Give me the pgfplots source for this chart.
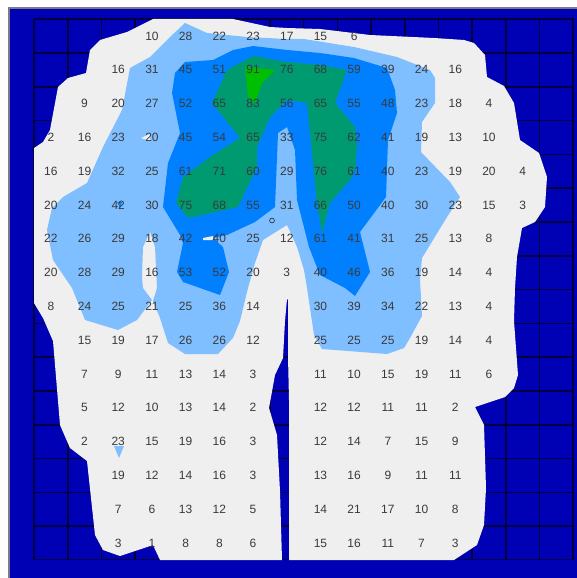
\documentclass[border=0pt]{standalone}
\usepackage{pgfplots}
\pgfplotsset{compat=1.18}
\usepackage{fontspec}
\setmainfont{Liberation Sans}
\definecolor{navy}{HTML}{0000B4}
\definecolor{gridc}{HTML}{000040}
\definecolor{pale}{HTML}{EFEFEF}
\definecolor{lblue}{HTML}{80BFFF}
\definecolor{mblue}{HTML}{0080FF}
\definecolor{tgreen}{HTML}{009A70}
\definecolor{bgreen}{HTML}{00BE00}
\definecolor{edge}{HTML}{7A7A8A}
\definecolor{lab}{HTML}{3A3A3A}
\begin{document}
\begin{tikzpicture}
\begin{axis}[x=1pt,y=1pt,y dir=reverse,xmin=0,xmax=577,ymin=0,ymax=578,hide axis,scale only axis]
% background
\addplot[fill=white,draw=none] coordinates {(0,0)(577,0)(577,578)(0,578)} -- cycle;
\addplot[fill=navy,draw=none] coordinates {(9,8)(577,8)(577,578)(9,578)} -- cycle;
\addplot[draw=edge,line width=1.5pt] coordinates {(9,578)(9,8)(577,8)};
% grid
\addplot[draw=gridc,line width=1.6pt,line join=miter] coordinates {
(34,19.3)(34,559.5)(67.7,559.5)(67.7,19.3)(101.4,19.3)(101.4,559.5)(135.1,559.5)(135.1,19.3)
(168.8,19.3)(168.8,559.5)(202.5,559.5)(202.5,19.3)(236.2,19.3)(236.2,559.5)(269.9,559.5)(269.9,19.3)
(303.6,19.3)(303.6,559.5)(337.3,559.5)(337.3,19.3)(371,19.3)(371,559.5)(404.7,559.5)(404.7,19.3)
(438.4,19.3)(438.4,559.5)(472.1,559.5)(472.1,19.3)(505.8,19.3)(505.8,559.5)(539.5,559.5)(539.5,19.3)
(573.2,19.3)(573.2,559.5)};
\addplot[draw=gridc,line width=1.6pt,line join=miter] coordinates {
(34,19.3)(573.2,19.3)(573.2,53)(34,53)(34,86.8)(573.2,86.8)(573.2,120.6)(34,120.6)
(34,154.4)(573.2,154.4)(573.2,188.2)(34,188.2)(34,222)(573.2,222)(573.2,255.8)(34,255.8)
(34,289.6)(573.2,289.6)(573.2,323.4)(34,323.4)(34,357.2)(573.2,357.2)(573.2,391)(34,391)
(34,424.8)(573.2,424.8)(573.2,458.6)(34,458.6)(34,492.4)(573.2,492.4)(573.2,526.2)(34,526.2)
(34,559.5)(573.2,559.5)};
% value bands
\addplot[fill=pale,draw=none] coordinates {
(153,19)(233,19)(270,27)(287,28)(320,29)(370,35)(434,38)(464,40)(474,43)(485,55)(487,77)(504,86)(514,103)(520,140)(539,153)(547,177)(545,207)(535,222)(522,228)(517,257)(515,288)(514,321)(518,375)(514,388)(505,397)(475,407)(484,425)(486,488)(484,525)(477,545)(454,560)
(289,560)(289,400)(288,356)(288,300)(287,299)(285,321)(283,358)(275,375)(269,408)(277,435)(280,491)(282,560)
(160,560)(153,545)(120,556)(103,550)(95,535)(87,461)(70,448)(60,425)(53,341)(43,318)(34,303)(34,148)(43,142)(50,130)(58,87)(68,78)(86,73)(90,50)(100,40)(127,32)} -- cycle;
\addplot[fill=lblue,draw=none] coordinates {
(185,23)(207,33)(247,37)(287,39)(304,39)(354,47)(397,57)(430,70)(435,78)(435,103)(422,122)(421,152)(450,182)(460,197)(447,217)(422,258)(420,280)(422,316)(410,338)(404,348)(387,354)(322,349)(314,335)(307,288)(304,270)(297,247)(287,225)(263,240)(255,263)(248,288)(240,321)(233,338)(218,354)(185,354)(168,343)(160,318)(153,301)(157,288)(155,247)(150,232)(143,247)(142,277)(143,288)(152,300)(137,320)(118,330)(85,320)(72,288)(53,260)(47,230)(52,208)(63,197)(87,183)(103,147)(122,110)(130,68)(150,57)(170,37)} -- cycle;
\addplot[fill=mblue,draw=none] coordinates {
(172,93)(175,73)(185,62)(213,60)(233,50)(253,46)(287,50)(320,53)(354,58)(387,68)(395,90)(397,113)(388,140)(386,197)(360,232)(370,272)(355,296)(345,288)(320,275)(309,247)(297,200)(295,150)(287,127)(278,133)(275,207)(255,222)(227,235)(213,238)(223,247)(229,272)(220,295)(183,282)(177,272)(183,243)(180,235)(163,207)(168,163)(180,133)} -- cycle;
\addplot[fill=tgreen,draw=none] coordinates {
(227,70)(253,56)(287,62)(320,65)(347,70)(335,103)(355,127)(357,147)(355,170)(350,180)(330,203)(322,233)(317,203)(307,103)(287,100)(270,117)(257,147)(257,167)(238,207)(188,218)(176,203)(183,177)(213,155)(240,138)(212,103)} -- cycle;
\addplot[fill=bgreen,draw=none] coordinates {(245,67)(275,70)(262,83)(255,103)(248,97)} -- cycle;
% small patches
\addplot[fill=pale,draw=none] coordinates {(203,238)(213,236)(213,240)(203,240)} -- cycle;
\addplot[fill=pale,draw=none] coordinates {(141,138)(150,134)(150,141)} -- cycle;
\addplot[fill=lblue,draw=none] coordinates {(114,446)(124,446)(119,458)} -- cycle;
\addplot[fill=mblue,draw=none] coordinates {(117,202)(122,202)(120,208)} -- cycle;
% value labels
\addplot[only marks,mark=none,point meta=explicit symbolic,nodes near coords,
  every node near coord/.append style={anchor=center,inner sep=0pt,text=lab,font=\fontsize{12}{12}\selectfont}]
 table[x expr=34+33.7*(\thisrow{c}+0.5),y expr=36+33.8*\thisrow{r},meta=v] {
c r v
3 0 10
4 0 28
5 0 22
6 0 23
7 0 17
8 0 15
9 0 6
2 1 16
3 1 31
4 1 45
5 1 51
6 1 91
7 1 76
8 1 68
9 1 59
10 1 39
11 1 24
12 1 16
1 2 9
2 2 20
3 2 27
4 2 52
5 2 65
6 2 83
7 2 56
8 2 65
9 2 55
10 2 48
11 2 23
12 2 18
13 2 4
0 3 2
1 3 16
2 3 23
3 3 20
4 3 45
5 3 54
6 3 65
7 3 33
8 3 75
9 3 62
10 3 41
11 3 19
12 3 13
13 3 10
0 4 16
1 4 19
2 4 32
3 4 25
4 4 61
5 4 71
6 4 60
7 4 29
8 4 76
9 4 61
10 4 40
11 4 23
12 4 19
13 4 20
14 4 4
0 5 20
1 5 24
2 5 42
3 5 30
4 5 75
5 5 68
6 5 55
7 5 31
8 5 66
9 5 50
10 5 40
11 5 30
12 5 23
13 5 15
14 5 3
0 6 22
1 6 26
2 6 29
3 6 18
4 6 42
5 6 40
6 6 25
7 6 12
8 6 61
9 6 41
10 6 31
11 6 25
12 6 13
13 6 8
0 7 20
1 7 28
2 7 29
3 7 16
4 7 53
5 7 52
6 7 20
7 7 3
8 7 40
9 7 46
10 7 36
11 7 19
12 7 14
13 7 4
0 8 8
1 8 24
2 8 25
3 8 21
4 8 25
5 8 36
6 8 14
8 8 30
9 8 39
10 8 34
11 8 22
12 8 13
13 8 4
1 9 15
2 9 19
3 9 17
4 9 26
5 9 26
6 9 12
8 9 25
9 9 25
10 9 25
11 9 19
12 9 14
13 9 4
1 10 7
2 10 9
3 10 11
4 10 13
5 10 14
6 10 3
8 10 11
9 10 10
10 10 15
11 10 19
12 10 11
13 10 6
1 11 5
2 11 12
3 11 10
4 11 13
5 11 14
6 11 2
8 11 12
9 11 12
10 11 11
11 11 11
12 11 2
1 12 2
2 12 23
3 12 15
4 12 19
5 12 16
6 12 3
8 12 12
9 12 14
10 12 7
11 12 15
12 12 9
2 13 19
3 13 12
4 13 14
5 13 16
6 13 3
8 13 13
9 13 16
10 13 9
11 13 11
12 13 11
2 14 7
3 14 6
4 14 13
5 14 12
6 14 5
8 14 14
9 14 21
10 14 17
11 14 10
12 14 8
2 15 3
3 15 1
4 15 8
5 15 8
6 15 6
8 15 15
9 15 16
10 15 11
11 15 7
12 15 3
};
% origin marker
\addplot[only marks,mark=o,mark size=2.4pt,mark options={draw=lab,line width=0.7pt}] coordinates {(272,220.5)};
\end{axis}
\end{tikzpicture}
\end{document}
